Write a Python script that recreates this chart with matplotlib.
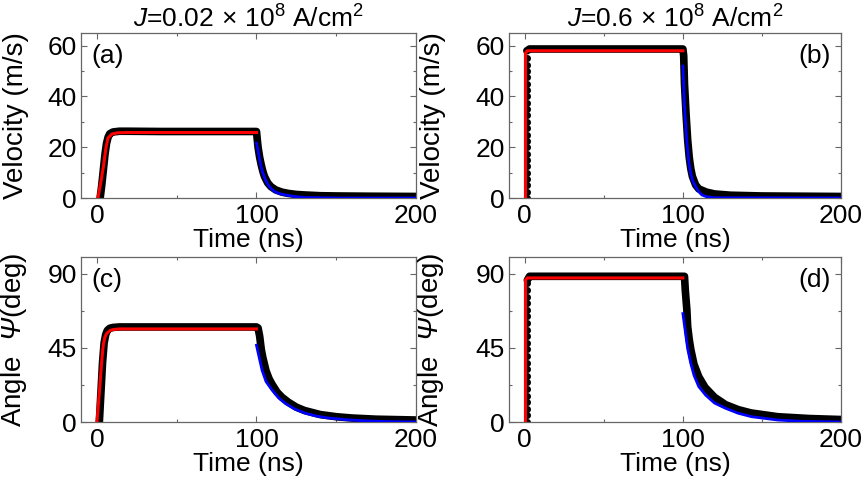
import matplotlib
matplotlib.use("Agg")
import matplotlib.pyplot as plt
from matplotlib.ticker import MultipleLocator

plt.rcParams['font.family'] = ['Liberation Sans', 'DejaVu Sans']
plt.rcParams['mathtext.fontset'] = 'custom'
plt.rcParams['mathtext.rm'] = 'Liberation Sans'
plt.rcParams['mathtext.it'] = 'Liberation Sans:italic'
plt.rcParams['mathtext.bf'] = 'Liberation Sans:bold'
# sf slot used for the italic capital Psi (mathit forces Greek capitals upright)
plt.rcParams['mathtext.sf'] = 'Liberation Sans:italic'

# ------------------------------------------------------------
# Data
# ------------------------------------------------------------
titles = [r"$\mathit{J}$=0.02$\,\times\,$10$^{8}$ A/cm$^{2}$",
          r"$\mathit{J}$=0.6$\,\times\,$10$^{8}$ A/cm$^{2}$"]
panel_tags = ["(a)", "(b)", "(c)", "(d)"]

# (a) velocity, J = 0.02
sim_t_a = [2, 3, 4, 5, 6, 7, 8, 10, 14, 20, 40, 60, 80, 100, 100.5, 101, 102, 103, 104, 105,
           107, 109, 112, 116, 120, 125, 130, 140, 150, 170, 200]
sim_v_a = [0, 5, 11, 17, 21.5, 24, 25.3, 26, 26.3, 26.3, 26.2, 26.2, 26.2, 26.2, 23, 20, 16, 13, 10.5, 8.5,
           6.0, 4.5, 3.2, 2.3, 1.8, 1.4, 1.2, 0.9, 0.8, 0.7, 0.6]
rise_t_a = [0.6, 2.5, 4.2, 5.6, 6.9, 9.4, 13, 20, 60, 100]
rise_v_a = [0, 6.5, 13, 19.6, 23.6, 25.2, 25.7, 25.8, 25.8, 25.8]
decay_t_a = [100, 101, 102, 103, 104, 106, 108, 111, 115, 119, 125, 130, 150, 200]
decay_v_a = [21.6, 18.5, 15, 12, 9.8, 6.6, 4.5, 2.6, 1.6, 1.1, 0.5, 0.2, 0, 0]

# (b) velocity, J = 0.6
jump_t_b = [1.3] * 23
jump_v_b = [0, 2.5, 5, 7.5, 10, 12.5, 15, 17.5, 20, 22.5, 25, 27.5, 30, 32.5, 35, 37.5,
            40, 42.5, 45, 47.5, 50, 52.5, 55]
sim_t_b = [1.3, 3, 20, 50, 100, 100.5, 101, 102, 103, 104, 105, 106, 108, 110, 115, 120, 130, 150, 200]
sim_v_b = [58.0, 58.7, 58.7, 58.7, 58.7, 56, 45, 33, 23, 16, 11.5, 8.5, 5.2, 3.6, 2.3, 1.6, 1.1, 0.8, 0.6]
rise_t_b = [0.4, 0.4, 1.5, 100]
rise_v_b = [0, 57, 58, 58]
decay_t_b = [100, 100.5, 101, 101.7, 102.5, 103.8, 105, 106, 108, 110, 112, 115, 120, 200]
decay_v_b = [52, 44, 36, 29.5, 22, 13.7, 9.5, 7, 4.5, 2.5, 1.2, 0.5, 0.1, 0]

# (c) angle, J = 0.02
sim_t_c = [1.5, 2.5, 3.5, 4.5, 5.5, 6.5, 8, 10, 14, 20, 50, 100, 101, 102, 103, 104, 106, 108, 110,
           113, 116, 120, 125, 130, 140, 150, 160, 175, 200]
sim_a_c = [0, 18, 36, 48, 53, 55.5, 56.8, 57.3, 57.6, 57.6, 57.6, 57.6, 57, 52, 44, 39, 31, 26, 22.5,
           18, 15, 12, 9, 7, 4.5, 3.2, 2.4, 1.7, 1.2]
rise_t_c = [0, 1, 2, 3, 4, 5, 6, 8, 10, 14, 100]
rise_a_c = [0, 12, 24, 37, 47, 51.5, 53.5, 55.3, 56, 56.4, 56.4]
decay_t_c = [100, 101.5, 103.5, 106, 109.8, 114, 118, 124, 131, 137, 143.5, 156, 170, 185, 200]
decay_a_c = [46.5, 40, 31.4, 24.5, 19.3, 14.5, 11.3, 7.8, 5.2, 3.7, 2.6, 1.4, 0.6, 0.2, 0]

# (d) angle, J = 0.6
jump_t_d = [1.6] * 22
jump_a_d = [0, 4, 8, 12, 16, 20, 24, 28, 32, 36, 40, 44, 48, 52, 56, 60, 64, 68, 72, 76, 80, 84]
sim_t_d = [1.6, 3, 20, 50, 101, 101.5, 102.5, 103, 104, 105, 107, 110, 114, 120, 127, 135, 143, 160, 180, 200]
sim_a_d = [86, 88.3, 88.3, 88.3, 88.3, 80, 68, 58, 50, 44, 35, 27.5, 21, 15, 10.5, 7.5, 5.5, 3.2, 2.1, 1.5]
rise_t_d = [0.4, 0.4, 1.5, 100]
rise_a_d = [0, 86, 87.3, 87.3]
decay_t_d = [100, 101.5, 103, 105, 107, 110, 114.4, 120, 127, 135, 143.5, 160, 175, 200]
decay_a_d = [65.7, 55, 44.5, 35.5, 28.4, 21.5, 16.3, 11.5, 8.3, 5.3, 3.2, 1.2, 0.4, 0]

# ------------------------------------------------------------
# Figure
# ------------------------------------------------------------
fig = plt.figure(figsize=(8.68, 4.82), dpi=100)

W, H = 868, 482
boxes = [(81, 33, 416, 198), (509, 33, 841, 198), (81, 257, 416, 422), (509, 257, 841, 422)]
axes = []
for (x0, y0, x1, y1) in boxes:
    ax = fig.add_axes([x0 / W, 1 - y1 / H, (x1 - x0) / W, (y1 - y0) / H])
    axes.append(ax)

grey = "#666666"
fs = 19


def style(ax, ymax, ymaj, ymin, ylabel, label_x):
    ax.set_xlim(-10, 200)
    ax.set_ylim(0, ymax)
    ax.xaxis.set_major_locator(MultipleLocator(100))
    ax.xaxis.set_minor_locator(MultipleLocator(50))
    ax.yaxis.set_major_locator(MultipleLocator(ymaj))
    ax.yaxis.set_minor_locator(MultipleLocator(ymin))
    ax.tick_params(which="both", direction="in", top=True, right=True, color=grey,
                   labelsize=fs, width=0.8)
    ax.tick_params(which="major", length=4, pad=3)
    ax.tick_params(which="minor", length=2.5)
    ax.tick_params(axis="x", pad=4)
    for s in ax.spines.values():
        s.set_color(grey)
        s.set_linewidth(0.9)
    ax.set_xlabel("Time (ns)", fontsize=fs, labelpad=0)
    ax.set_ylabel(ylabel, fontsize=fs + 1)
    ax.yaxis.set_label_coords(label_x, 0.5)


def draw(ax, st, sv, rt, rv, dt, dv, jt=None, jv=None):
    ax.plot(st, sv, color="black", lw=5.5, solid_capstyle="round", zorder=2)
    if jt is not None:
        ax.plot(jt, jv, "o", color="black", ms=4, zorder=2, linestyle="none")
    ax.plot(rt, rv, color="red", lw=2.2, zorder=3)
    ax.plot(dt, dv, color="blue", lw=2.0, zorder=3)


draw(axes[0], sim_t_a, sim_v_a, rise_t_a, rise_v_a, decay_t_a, decay_v_a)
draw(axes[1], sim_t_b, sim_v_b, rise_t_b, rise_v_b, decay_t_b, decay_v_b, jump_t_b, jump_v_b)
draw(axes[2], sim_t_c, sim_a_c, rise_t_c, rise_a_c, decay_t_c, decay_a_c)
draw(axes[3], sim_t_d, sim_a_d, rise_t_d, rise_a_d, decay_t_d, decay_a_d, jump_t_d, jump_a_d)

vel_label = "Velocity (m/s)"
ang_label = r"Angle  $\mathsf{Ψ}$(deg)"
style(axes[0], 65, 20, 10, vel_label, -0.155)
style(axes[1], 65, 20, 10, vel_label, -0.19)
style(axes[2], 100, 45, 22.5, ang_label, -0.155)
style(axes[3], 100, 45, 22.5, ang_label, -0.19)

axes[0].set_title(titles[0], fontsize=fs, pad=3)
axes[1].set_title(titles[1], fontsize=fs, pad=3)

for ax, tag in zip(axes, panel_tags):
    if tag in ("(a)", "(c)"):
        ax.text(0.03, 0.935, tag, transform=ax.transAxes, fontsize=fs, ha="left", va="top")
    else:
        ax.text(0.97, 0.935, tag, transform=ax.transAxes, fontsize=fs, ha="right", va="top")

fig.savefig("out.png", dpi=100)
